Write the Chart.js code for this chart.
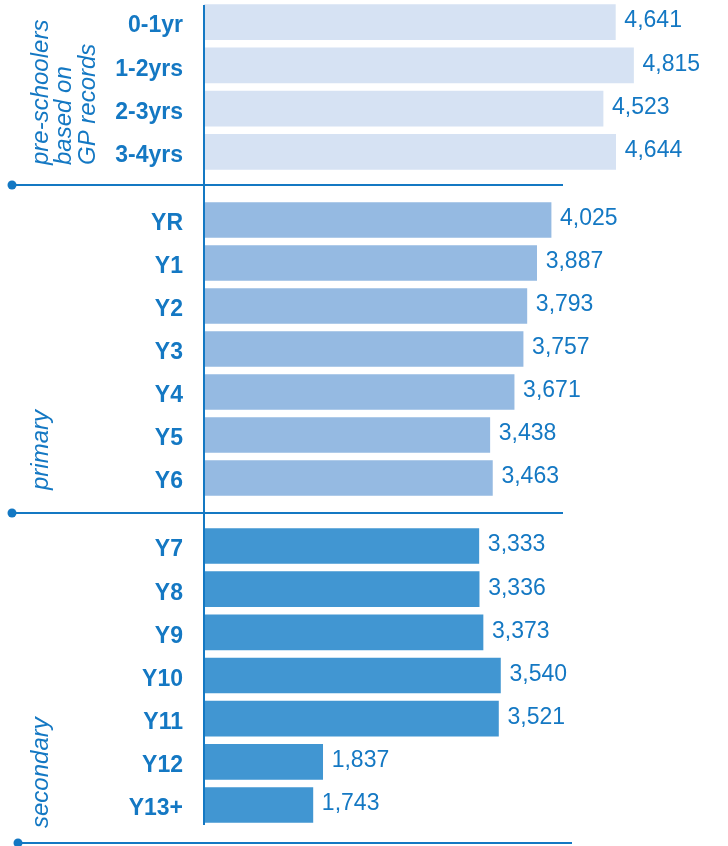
<!DOCTYPE html>
<html>
<head>
<meta charset="utf-8">
<script src="https://cdn.jsdelivr.net/npm/chart.js@4.4.0/dist/chart.umd.min.js"></script>
<style>
  html, body { margin: 0; padding: 0; background: #fff; }
  #wrap { position: relative; width: 728px; height: 846px; overflow: hidden; }
  #wrap canvas { position: absolute; left: 0; }
</style>
</head>
<body>
<div id="wrap">
  <canvas id="preChart" width="728" height="195" style="top:0"></canvas>
  <canvas id="primaryChart" width="728" height="328" style="top:195px"></canvas>
  <canvas id="secondaryChart" width="728" height="323" style="top:523px"></canvas>
</div>
<script>
// Data
const preLabels = ['0-1yr', '1-2yrs', '2-3yrs', '3-4yrs'];
const preValues = [4641, 4815, 4523, 4644];
const primaryLabels = ['YR', 'Y1', 'Y2', 'Y3', 'Y4', 'Y5', 'Y6'];
const primaryValues = [4025, 3887, 3793, 3757, 3671, 3438, 3463];
const secondaryLabels = ['Y7', 'Y8', 'Y9', 'Y10', 'Y11', 'Y12', 'Y13+'];
const secondaryValues = [3333, 3336, 3373, 3540, 3521, 1837, 1743];
const groupTitles = [['pre-schoolers', 'based on', 'GP records'], ['primary'], ['secondary']];

const FONT = '"Liberation Sans", Arial, sans-serif';
const BLUE = '#1478c3';
const xMin = 700;
const xMax = 5720;

function makeChart(id, labels, values, barColor, title, decor) {
    const canvas = document.getElementById(id);
    const ctx = canvas.getContext('2d');

    // separator line, vertical axis line, rotated group title, value labels
    const decorPlugin = {
        id: 'decor',
        afterDatasetsDraw(chart) {
            const c = chart.ctx;
            c.save();
            c.strokeStyle = BLUE;
            c.fillStyle = BLUE;
            c.lineWidth = 2;

            c.beginPath();
            c.moveTo(204, decor.axisTop);
            c.lineTo(204, decor.axisBottom);
            c.stroke();

            c.beginPath();
            c.moveTo(decor.sepX0, decor.sepY);
            c.lineTo(decor.sepX1, decor.sepY);
            c.stroke();
            c.beginPath();
            c.arc(decor.sepX0, decor.sepY, 4.5, 0, Math.PI * 2);
            c.fill();

            // group title, rotated, one line per entry
            c.save();
            c.translate(41, decor.titleY);
            c.rotate(-Math.PI / 2);
            c.font = 'italic 24px ' + FONT;
            c.textAlign = 'left';
            c.textBaseline = 'middle';
            title.forEach((line, i) => c.fillText(line, 0, i * 23.5));
            c.restore();

            // value labels
            c.font = '23px ' + FONT;
            c.textAlign = 'left';
            c.textBaseline = 'middle';
            chart.getDatasetMeta(0).data.forEach((bar, i) => {
                c.fillText(values[i].toLocaleString('en-GB'), bar.x + 9, bar.y - 1);
            });
            c.restore();
        }
    };

    return new Chart(ctx, {
        type: 'bar',
        data: {
            labels: labels,
            datasets: [{
                data: values,
                backgroundColor: barColor,
                borderWidth: 0,
                barThickness: 35
            }]
        },
        options: {
            indexAxis: 'y',
            responsive: false,
            animation: false,
            devicePixelRatio: 1,
            layout: { padding: { top: decor.padTop, bottom: decor.padBottom, left: 0, right: 0 } },
            plugins: {
                legend: { display: false },
                tooltip: { enabled: false }
            },
            scales: {
                x: {
                    display: false,
                    min: xMin,
                    max: xMax
                },
                y: {
                    grid: { display: false, drawTicks: false },
                    border: { display: false },
                    afterFit: scale => {
                        scale.width = 204;
                        scale.paddingTop = 0;
                        scale.paddingBottom = 0;
                    },
                    ticks: {
                        color: BLUE,
                        padding: 21,
                        labelOffset: 4,
                        font: { family: FONT, size: 23, weight: 'bold' }
                    }
                }
            }
        },
        plugins: [decorPlugin]
    });
}

makeChart('preChart', preLabels, preValues, '#d6e2f3', groupTitles[0], {
    padTop: 0.5, padBottom: 21.5, axisTop: 5, axisBottom: 195,
    sepY: 185, sepX0: 12, sepX1: 563, titleY: 165
});
makeChart('primaryChart', primaryLabels, primaryValues, '#95bae2', groupTitles[1], {
    padTop: 3.5, padBottom: 23.5, axisTop: 0, axisBottom: 328,
    sepY: 318, sepX0: 12, sepX1: 563, titleY: 295
});
makeChart('secondaryChart', secondaryLabels, secondaryValues, '#4196d2', groupTitles[2], {
    padTop: 1.4, padBottom: 19.4, axisTop: 0, axisBottom: 302,
    sepY: 320, sepX0: 18, sepX1: 572, titleY: 305
});
</script>
</body>
</html>
